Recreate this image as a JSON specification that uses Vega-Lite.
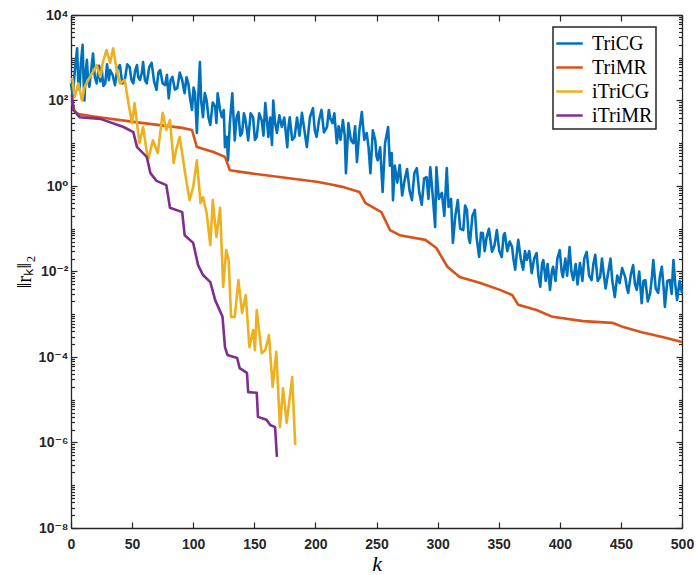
{
"$schema":"https://vega.github.io/schema/vega-lite/v6.json",
"width":611,"height":513,
"autosize":{"type":"none"},
"padding":{"left":71,"top":15,"right":15,"bottom":47},
"background":"white",
"config":{
 "view":{"stroke":null},
 "axis":{"grid":false,"domainColor":"#262626","domainWidth":1.3,"tickColor":"#262626","tickWidth":1.2,
  "labelFont":"Liberation Sans, DejaVu Sans","labelFontWeight":"bold","labelFontSize":14,"labelColor":"#262626",
  "labelFlush":false,"labelOverlap":false},
 "legend":{"strokeWidth":1.5}
},
"layer":[
 {
  "data":{"values":[
{"s":"TriCG","k":0,"r":251},{"s":"TriCG","k":1.5,"r":130},{"s":"TriCG","k":3,"r":450},{"s":"TriCG","k":5,"r":1660},{"s":"TriCG","k":6,"r":250},{"s":"TriCG","k":7,"r":178},{"s":"TriCG","k":8,"r":700},{"s":"TriCG","k":9.5,"r":2000},{"s":"TriCG","k":10.3,"r":300},{"s":"TriCG","k":11,"r":100},{"s":"TriCG","k":12,"r":450},{"s":"TriCG","k":13,"r":891},{"s":"TriCG","k":14,"r":300},{"s":"TriCG","k":15,"r":209},{"s":"TriCG","k":16.5,"r":500},{"s":"TriCG","k":18,"r":1259},{"s":"TriCG","k":19.5,"r":350},{"s":"TriCG","k":21,"r":251},{"s":"TriCG","k":23,"r":650},{"s":"TriCG","k":24,"r":280},{"s":"TriCG","k":25,"r":575},{"s":"TriCG","k":26.5,"r":220},{"s":"TriCG","k":28,"r":251},{"s":"TriCG","k":29.5,"r":700},{"s":"TriCG","k":31,"r":300},{"s":"TriCG","k":32,"r":513},{"s":"TriCG","k":34,"r":400},{"s":"TriCG","k":36,"r":229},{"s":"TriCG","k":38,"r":550},{"s":"TriCG","k":40,"r":676},{"s":"TriCG","k":42,"r":250},{"s":"TriCG","k":44,"r":302},{"s":"TriCG","k":46,"r":700},{"s":"TriCG","k":48,"r":603},{"s":"TriCG","k":49.5,"r":300},{"s":"TriCG","k":51,"r":251},{"s":"TriCG","k":52.5,"r":500},{"s":"TriCG","k":54,"r":676},{"s":"TriCG","k":55,"r":350},{"s":"TriCG","k":56.5,"r":302},{"s":"TriCG","k":58,"r":450},{"s":"TriCG","k":59,"r":794},{"s":"TriCG","k":60.5,"r":300},{"s":"TriCG","k":62,"r":251},{"s":"TriCG","k":64,"r":600},{"s":"TriCG","k":66,"r":759},{"s":"TriCG","k":68,"r":280},{"s":"TriCG","k":70,"r":178},{"s":"TriCG","k":71.5,"r":450},{"s":"TriCG","k":73,"r":513},{"s":"TriCG","k":75,"r":250},{"s":"TriCG","k":77,"r":229},{"s":"TriCG","k":78.5,"r":400},{"s":"TriCG","k":80,"r":112},{"s":"TriCG","k":81.5,"r":300},{"s":"TriCG","k":83,"r":355},{"s":"TriCG","k":85,"r":180},{"s":"TriCG","k":87,"r":195},{"s":"TriCG","k":89,"r":450},{"s":"TriCG","k":91,"r":302},{"s":"TriCG","k":92,"r":200},{"s":"TriCG","k":93,"r":148},{"s":"TriCG","k":94.5,"r":350},{"s":"TriCG","k":96,"r":251},{"s":"TriCG","k":97.5,"r":110},{"s":"TriCG","k":99,"r":60},{"s":"TriCG","k":100.3,"r":200},{"s":"TriCG","k":101.5,"r":148},{"s":"TriCG","k":103,"r":17.4},{"s":"TriCG","k":104.5,"r":200},{"s":"TriCG","k":105.5,"r":794},{"s":"TriCG","k":106.5,"r":100},{"s":"TriCG","k":108,"r":40.7},{"s":"TriCG","k":109.5,"r":150},{"s":"TriCG","k":111,"r":100},{"s":"TriCG","k":112.5,"r":40},{"s":"TriCG","k":114,"r":26.9},{"s":"TriCG","k":116,"r":90},{"s":"TriCG","k":118,"r":70.8},{"s":"TriCG","k":119,"r":30},{"s":"TriCG","k":120,"r":148},{"s":"TriCG","k":122,"r":60},{"s":"TriCG","k":123.5,"r":40.7},{"s":"TriCG","k":125,"r":60},{"s":"TriCG","k":126,"r":8.13},{"s":"TriCG","k":127.5,"r":14.1},{"s":"TriCG","k":128.5,"r":3.98},{"s":"TriCG","k":130,"r":30},{"s":"TriCG","k":132,"r":148},{"s":"TriCG","k":133,"r":40},{"s":"TriCG","k":134,"r":11.7},{"s":"TriCG","k":135.5,"r":40},{"s":"TriCG","k":137,"r":53.7},{"s":"TriCG","k":138.5,"r":15},{"s":"TriCG","k":140,"r":17.4},{"s":"TriCG","k":141.5,"r":50},{"s":"TriCG","k":142.5,"r":38.9},{"s":"TriCG","k":144,"r":20},{"s":"TriCG","k":145,"r":11.7},{"s":"TriCG","k":147,"r":50},{"s":"TriCG","k":149,"r":40.7},{"s":"TriCG","k":150.5,"r":12},{"s":"TriCG","k":152,"r":14.1},{"s":"TriCG","k":154,"r":50},{"s":"TriCG","k":156,"r":34.7},{"s":"TriCG","k":157.5,"r":15},{"s":"TriCG","k":159,"r":87.1},{"s":"TriCG","k":160.5,"r":30},{"s":"TriCG","k":161.5,"r":14.1},{"s":"TriCG","k":163,"r":40},{"s":"TriCG","k":164.5,"r":9.12},{"s":"TriCG","k":165.5,"r":100},{"s":"TriCG","k":167,"r":30},{"s":"TriCG","k":168.5,"r":17.4},{"s":"TriCG","k":170.5,"r":45},{"s":"TriCG","k":172.5,"r":24},{"s":"TriCG","k":174.5,"r":40},{"s":"TriCG","k":177,"r":8.13},{"s":"TriCG","k":178,"r":25},{"s":"TriCG","k":179,"r":40.7},{"s":"TriCG","k":181,"r":12},{"s":"TriCG","k":183,"r":14.1},{"s":"TriCG","k":185,"r":40},{"s":"TriCG","k":187,"r":15},{"s":"TriCG","k":189,"r":51.3},{"s":"TriCG","k":191,"r":20},{"s":"TriCG","k":193,"r":8.13},{"s":"TriCG","k":195.5,"r":40},{"s":"TriCG","k":198,"r":66.1},{"s":"TriCG","k":199.5,"r":20},{"s":"TriCG","k":201,"r":14.1},{"s":"TriCG","k":203,"r":35},{"s":"TriCG","k":205,"r":60.3},{"s":"TriCG","k":207,"r":18},{"s":"TriCG","k":209.5,"r":24},{"s":"TriCG","k":211,"r":60},{"s":"TriCG","k":212,"r":39.8},{"s":"TriCG","k":214,"r":29.5},{"s":"TriCG","k":215.5,"r":50},{"s":"TriCG","k":217.5,"r":10},{"s":"TriCG","k":219,"r":25},{"s":"TriCG","k":220.5,"r":12},{"s":"TriCG","k":222.5,"r":34.7},{"s":"TriCG","k":224,"r":15},{"s":"TriCG","k":225,"r":2.0},{"s":"TriCG","k":227,"r":29.5},{"s":"TriCG","k":229,"r":12},{"s":"TriCG","k":231,"r":10},{"s":"TriCG","k":232.5,"r":25},{"s":"TriCG","k":234,"r":3.63},{"s":"TriCG","k":236,"r":20},{"s":"TriCG","k":238,"r":53.7},{"s":"TriCG","k":240,"r":12},{"s":"TriCG","k":242,"r":17.4},{"s":"TriCG","k":243.5,"r":8},{"s":"TriCG","k":245,"r":2.0},{"s":"TriCG","k":247,"r":20},{"s":"TriCG","k":249,"r":11.7},{"s":"TriCG","k":250,"r":5},{"s":"TriCG","k":251,"r":3.98},{"s":"TriCG","k":253,"r":8},{"s":"TriCG","k":255,"r":0.724},{"s":"TriCG","k":257,"r":10},{"s":"TriCG","k":259.5,"r":24},{"s":"TriCG","k":261,"r":3},{"s":"TriCG","k":262.5,"r":5.89},{"s":"TriCG","k":263.5,"r":0.468},{"s":"TriCG","k":265,"r":3},{"s":"TriCG","k":267,"r":1.2},{"s":"TriCG","k":269,"r":3.09},{"s":"TriCG","k":271,"r":0.6},{"s":"TriCG","k":273,"r":1.38},{"s":"TriCG","k":275,"r":2.5},{"s":"TriCG","k":277,"r":0.8},{"s":"TriCG","k":279,"r":0.468},{"s":"TriCG","k":281,"r":2},{"s":"TriCG","k":283,"r":2.63},{"s":"TriCG","k":285,"r":0.7},{"s":"TriCG","k":287,"r":0.363},{"s":"TriCG","k":289,"r":1.5},{"s":"TriCG","k":291,"r":1.62},{"s":"TriCG","k":292.5,"r":0.5},{"s":"TriCG","k":294,"r":2.75},{"s":"TriCG","k":296,"r":0.6},{"s":"TriCG","k":298,"r":0.11},{"s":"TriCG","k":299,"r":2.75},{"s":"TriCG","k":301,"r":0.5},{"s":"TriCG","k":303.5,"r":0.692},{"s":"TriCG","k":305.5,"r":0.2},{"s":"TriCG","k":307.5,"r":2.63},{"s":"TriCG","k":309,"r":0.324},{"s":"TriCG","k":311,"r":0.5},{"s":"TriCG","k":312.5,"r":0.0468},{"s":"TriCG","k":314.5,"r":0.2},{"s":"TriCG","k":316.5,"r":0.468},{"s":"TriCG","k":318.5,"r":0.1},{"s":"TriCG","k":321,"r":0.0933},{"s":"TriCG","k":322.5,"r":0.35},{"s":"TriCG","k":324,"r":0.275},{"s":"TriCG","k":325.5,"r":0.06},{"s":"TriCG","k":326.5,"r":0.0468},{"s":"TriCG","k":328.5,"r":0.2},{"s":"TriCG","k":330.5,"r":0.275},{"s":"TriCG","k":332,"r":0.06},{"s":"TriCG","k":334,"r":0.0219},{"s":"TriCG","k":335.5,"r":0.08},{"s":"TriCG","k":337,"r":0.0794},{"s":"TriCG","k":338.5,"r":0.03},{"s":"TriCG","k":340,"r":0.0603},{"s":"TriCG","k":342,"r":0.1},{"s":"TriCG","k":344.5,"r":0.0288},{"s":"TriCG","k":346.5,"r":0.04},{"s":"TriCG","k":348.5,"r":0.0933},{"s":"TriCG","k":350.5,"r":0.03},{"s":"TriCG","k":352.5,"r":0.0219},{"s":"TriCG","k":354,"r":0.07},{"s":"TriCG","k":355,"r":0.0794},{"s":"TriCG","k":357,"r":0.03},{"s":"TriCG","k":359,"r":0.05},{"s":"TriCG","k":361,"r":0.0372},{"s":"TriCG","k":362,"r":0.02},{"s":"TriCG","k":363.5,"r":0.011},{"s":"TriCG","k":365,"r":0.03},{"s":"TriCG","k":366,"r":0.055},{"s":"TriCG","k":368,"r":0.02},{"s":"TriCG","k":370,"r":0.011},{"s":"TriCG","k":371.5,"r":0.03},{"s":"TriCG","k":373,"r":0.0186},{"s":"TriCG","k":375,"r":0.03},{"s":"TriCG","k":377,"r":0.00912},{"s":"TriCG","k":379,"r":0.02},{"s":"TriCG","k":381,"r":0.0269},{"s":"TriCG","k":382.5,"r":0.008},{"s":"TriCG","k":384,"r":0.00437},{"s":"TriCG","k":385.5,"r":0.015},{"s":"TriCG","k":386.5,"r":0.0186},{"s":"TriCG","k":388.5,"r":0.006},{"s":"TriCG","k":390,"r":0.015},{"s":"TriCG","k":392,"r":0.00372},{"s":"TriCG","k":393.5,"r":0.01},{"s":"TriCG","k":394.5,"r":0.0129},{"s":"TriCG","k":396.5,"r":0.006},{"s":"TriCG","k":398,"r":0.02},{"s":"TriCG","k":400,"r":0.0316},{"s":"TriCG","k":401.5,"r":0.01},{"s":"TriCG","k":402.5,"r":0.00741},{"s":"TriCG","k":404.5,"r":0.02},{"s":"TriCG","k":406,"r":0.008},{"s":"TriCG","k":408,"r":0.0372},{"s":"TriCG","k":409.5,"r":0.01},{"s":"TriCG","k":411,"r":0.00631},{"s":"TriCG","k":413,"r":0.015},{"s":"TriCG","k":414.5,"r":0.005},{"s":"TriCG","k":416.5,"r":0.0158},{"s":"TriCG","k":418.5,"r":0.006},{"s":"TriCG","k":420,"r":0.02},{"s":"TriCG","k":422,"r":0.0288},{"s":"TriCG","k":424,"r":0.008},{"s":"TriCG","k":426,"r":0.00631},{"s":"TriCG","k":427.5,"r":0.015},{"s":"TriCG","k":429,"r":0.0245},{"s":"TriCG","k":431,"r":0.006},{"s":"TriCG","k":433,"r":0.00741},{"s":"TriCG","k":434.5,"r":0.02},{"s":"TriCG","k":435.5,"r":0.011},{"s":"TriCG","k":437.5,"r":0.004},{"s":"TriCG","k":439.5,"r":0.00912},{"s":"TriCG","k":441.5,"r":0.02},{"s":"TriCG","k":443,"r":0.006},{"s":"TriCG","k":445,"r":0.00251},{"s":"TriCG","k":447,"r":0.008},{"s":"TriCG","k":449,"r":0.00537},{"s":"TriCG","k":451,"r":0.012},{"s":"TriCG","k":453.5,"r":0.00741},{"s":"TriCG","k":455,"r":0.004},{"s":"TriCG","k":456,"r":0.00316},{"s":"TriCG","k":458,"r":0.008},{"s":"TriCG","k":460,"r":0.0141},{"s":"TriCG","k":461.5,"r":0.005},{"s":"TriCG","k":463,"r":0.00372},{"s":"TriCG","k":465,"r":0.01},{"s":"TriCG","k":467,"r":0.00182},{"s":"TriCG","k":468.5,"r":0.006},{"s":"TriCG","k":470,"r":0.00631},{"s":"TriCG","k":472,"r":0.002},{"s":"TriCG","k":474,"r":0.00316},{"s":"TriCG","k":475.5,"r":0.008},{"s":"TriCG","k":476.5,"r":0.0186},{"s":"TriCG","k":478.5,"r":0.004},{"s":"TriCG","k":480.5,"r":0.00316},{"s":"TriCG","k":482,"r":0.008},{"s":"TriCG","k":483.5,"r":0.0129},{"s":"TriCG","k":485,"r":0.004},{"s":"TriCG","k":486,"r":0.00148},{"s":"TriCG","k":488,"r":0.006},{"s":"TriCG","k":490,"r":0.00631},{"s":"TriCG","k":491.5,"r":0.003},{"s":"TriCG","k":493,"r":0.0186},{"s":"TriCG","k":494.5,"r":0.005},{"s":"TriCG","k":496,"r":0.00214},{"s":"TriCG","k":498,"r":0.006},{"s":"TriCG","k":500,"r":0.00316},
{"s":"TriMR","k":1,"r":89},{"s":"TriMR","k":3,"r":56},{"s":"TriMR","k":6,"r":48},{"s":"TriMR","k":20,"r":41.7},{"s":"TriMR","k":51,"r":31.6},{"s":"TriMR","k":91,"r":22.9},{"s":"TriMR","k":99,"r":20.4},{"s":"TriMR","k":103,"r":8.13},{"s":"TriMR","k":116,"r":6.31},{"s":"TriMR","k":126,"r":4.79},{"s":"TriMR","k":130,"r":2.34},{"s":"TriMR","k":146,"r":2.0},{"s":"TriMR","k":201,"r":1.26},{"s":"TriMR","k":212,"r":1.1},{"s":"TriMR","k":222,"r":0.955},{"s":"TriMR","k":236,"r":0.724},{"s":"TriMR","k":241,"r":0.398},{"s":"TriMR","k":254,"r":0.245},{"s":"TriMR","k":261,"r":0.0933},{"s":"TriMR","k":269,"r":0.0708},{"s":"TriMR","k":290,"r":0.055},{"s":"TriMR","k":299,"r":0.0355},{"s":"TriMR","k":308,"r":0.0129},{"s":"TriMR","k":318,"r":0.00741},{"s":"TriMR","k":335,"r":0.00537},{"s":"TriMR","k":351,"r":0.00372},{"s":"TriMR","k":361,"r":0.00282},{"s":"TriMR","k":366,"r":0.00166},{"s":"TriMR","k":381,"r":0.00126},{"s":"TriMR","k":394,"r":0.00087},{"s":"TriMR","k":419,"r":0.00069},{"s":"TriMR","k":443,"r":0.00063},{"s":"TriMR","k":452,"r":0.0005},{"s":"TriMR","k":467,"r":0.00038},{"s":"TriMR","k":484,"r":0.000295},{"s":"TriMR","k":500,"r":0.000224},
{"s":"iTriCG","k":1,"r":339},{"s":"iTriCG","k":3,"r":120},{"s":"iTriCG","k":6,"r":251},{"s":"iTriCG","k":9,"r":100},{"s":"iTriCG","k":11,"r":200},{"s":"iTriCG","k":14,"r":302},{"s":"iTriCG","k":18,"r":468},{"s":"iTriCG","k":21,"r":676},{"s":"iTriCG","k":24,"r":355},{"s":"iTriCG","k":26,"r":759},{"s":"iTriCG","k":29,"r":1514},{"s":"iTriCG","k":32,"r":759},{"s":"iTriCG","k":34.5,"r":1660},{"s":"iTriCG","k":37,"r":603},{"s":"iTriCG","k":40,"r":251},{"s":"iTriCG","k":44,"r":302},{"s":"iTriCG","k":47,"r":87},{"s":"iTriCG","k":50,"r":29.5},{"s":"iTriCG","k":52,"r":87},{"s":"iTriCG","k":56,"r":10},{"s":"iTriCG","k":59,"r":24},{"s":"iTriCG","k":63,"r":3.98},{"s":"iTriCG","k":67,"r":11.7},{"s":"iTriCG","k":71,"r":5.89},{"s":"iTriCG","k":75,"r":51.3},{"s":"iTriCG","k":78,"r":20.4},{"s":"iTriCG","k":81,"r":34.7},{"s":"iTriCG","k":84,"r":3.47},{"s":"iTriCG","k":86,"r":6.92},{"s":"iTriCG","k":89,"r":14.1},{"s":"iTriCG","k":93,"r":2.34},{"s":"iTriCG","k":97,"r":0.468},{"s":"iTriCG","k":100,"r":0.955},{"s":"iTriCG","k":103,"r":3.98},{"s":"iTriCG","k":106,"r":0.398},{"s":"iTriCG","k":108,"r":0.55},{"s":"iTriCG","k":111,"r":0.234},{"s":"iTriCG","k":114,"r":0.0417},{"s":"iTriCG","k":116,"r":0.468},{"s":"iTriCG","k":119,"r":0.0646},{"s":"iTriCG","k":122,"r":0.309},{"s":"iTriCG","k":124.5,"r":0.00437},{"s":"iTriCG","k":127,"r":0.0316},{"s":"iTriCG","k":129,"r":0.0186},{"s":"iTriCG","k":131,"r":0.00087},{"s":"iTriCG","k":134,"r":0.00087},{"s":"iTriCG","k":137,"r":0.00631},{"s":"iTriCG","k":140,"r":0.00107},{"s":"iTriCG","k":143,"r":0.00282},{"s":"iTriCG","k":146,"r":0.00017},{"s":"iTriCG","k":149,"r":0.000427},{"s":"iTriCG","k":150.5,"r":0.000145},{"s":"iTriCG","k":152,"r":0.00126},{"s":"iTriCG","k":156,"r":0.000123},{"s":"iTriCG","k":159,"r":0.000145},{"s":"iTriCG","k":162,"r":0.000324},{"s":"iTriCG","k":165,"r":0.00002},{"s":"iTriCG","k":168,"r":0.000132},{"s":"iTriCG","k":171,"r":0.00000229},{"s":"iTriCG","k":173.5,"r":0.0000186},{"s":"iTriCG","k":176.5,"r":0.00000288},{"s":"iTriCG","k":181,"r":0.0000339},{"s":"iTriCG","k":183.5,"r":0.00000087},
{"s":"iTriMR","k":0.8,"r":135},{"s":"iTriMR","k":2,"r":60},{"s":"iTriMR","k":7,"r":40.7},{"s":"iTriMR","k":24,"r":37.2},{"s":"iTriMR","k":43,"r":24},{"s":"iTriMR","k":51,"r":18.2},{"s":"iTriMR","k":54,"r":8.13},{"s":"iTriMR","k":62,"r":4.79},{"s":"iTriMR","k":65,"r":2.0},{"s":"iTriMR","k":70,"r":1.32},{"s":"iTriMR","k":78,"r":1.05},{"s":"iTriMR","k":81,"r":0.309},{"s":"iTriMR","k":91,"r":0.245},{"s":"iTriMR","k":93,"r":0.0708},{"s":"iTriMR","k":100,"r":0.0468},{"s":"iTriMR","k":104,"r":0.0141},{"s":"iTriMR","k":108,"r":0.0083},{"s":"iTriMR","k":114,"r":0.00562},{"s":"iTriMR","k":118,"r":0.00214},{"s":"iTriMR","k":124,"r":0.00087},{"s":"iTriMR","k":126,"r":0.00017},{"s":"iTriMR","k":128,"r":0.000112},{"s":"iTriMR","k":136,"r":0.000095},{"s":"iTriMR","k":138,"r":0.000055},{"s":"iTriMR","k":144,"r":0.0000427},{"s":"iTriMR","k":145,"r":0.0000151},{"s":"iTriMR","k":152,"r":0.0000145},{"s":"iTriMR","k":153,"r":0.00000398},{"s":"iTriMR","k":160,"r":0.00000339},{"s":"iTriMR","k":163,"r":0.00000257},{"s":"iTriMR","k":167,"r":0.00000229},{"s":"iTriMR","k":168.5,"r":0.00000046}
  ]},
  "mark":{"type":"line","strokeWidth":2.6,"strokeJoin":"round"},
  "encoding":{
   "x":{"field":"k","type":"quantitative","scale":{"domain":[0,500],"nice":false,"zero":false},
    "axis":{"orient":"bottom","values":[0,50,100,150,200,250,300,350,400,450,500],"ticks":false,"labelPadding":9,
     "title":"k","titleFont":"Liberation Serif","titleFontStyle":"italic","titleFontWeight":"normal","titleFontSize":22,"titleColor":"#000","titlePadding":2}},
   "y":{"field":"r","type":"quantitative","scale":{"type":"log","domain":[1e-8,1e4],"nice":false},
    "axis":{"orient":"left","values":[1e-8,1e-6,1e-4,1e-2,1,100,10000],"ticks":false,"labelPadding":3,
     "labelExpr":"datum.value >= 5000 ? '10⁴' : datum.value >= 50 ? '10²' : datum.value >= 0.5 ? '10⁰' : datum.value >= 0.005 ? '10⁻²' : datum.value >= 0.00005 ? '10⁻⁴' : datum.value >= 0.0000005 ? '10⁻⁶' : '10⁻⁸'",
     "title":"‖rₖ‖₂","titleFont":"Liberation Serif","titleFontWeight":"normal","titleFontSize":21,"titleColor":"#000","titlePadding":4}},
   "color":{"field":"s","type":"nominal","sort":["TriCG","TriMR","iTriCG","iTriMR"],
    "scale":{"domain":["TriCG","TriMR","iTriCG","iTriMR"],"range":["#0072BD","#D95319","#EDB120","#7E2F8E"]},
    "legend":{"orient":"none","legendX":482,"legendY":12,"title":null,"symbolType":"M-1.1,0H1.1","symbolStrokeWidth":2.5,"symbolSize":576,
     "labelFont":"Liberation Serif","labelFontSize":20,"labelColor":"#000","strokeColor":"#262626","fillColor":"white","padding":3,"rowPadding":0,"labelOffset":9,"cornerRadius":0}}
  }
 },
 {
  "data":{"values":[{"k":0,"r":1}]},
  "mark":{"type":"point","opacity":0},
  "encoding":{
   "x":{"field":"k","type":"quantitative","scale":{"domain":[0,500],"nice":false,"zero":false},
    "axis":{"orient":"top","offset":-513,"domain":false,"values":[0,50,100,150,200,250,300,350,400,450,500],"tickSize":6,"labels":false,"title":null}},
   "y":{"field":"r","type":"quantitative","scale":{"type":"log","domain":[1e-8,1e4],"nice":false},
    "axis":{"orient":"right","offset":-611,"domain":false,"values":[1e-8,1e-6,1e-4,1e-2,1,100,10000],"tickSize":6,"labels":false,"title":null}}
  }
 },
 {
  "data":{"values":[{"k":0,"r":1}]},
  "mark":{"type":"point","opacity":0},
  "encoding":{
   "x":{"field":"k","type":"quantitative","scale":{"domain":[0,500],"nice":false,"zero":false},
    "axis":{"orient":"bottom","offset":-513,"domain":true,"values":[0,50,100,150,200,250,300,350,400,450,500],"tickSize":6,"labels":false,"title":null}},
   "y":{"field":"r","type":"quantitative","scale":{"type":"log","domain":[1e-8,1e4],"nice":false},
    "axis":{"orient":"left","offset":-611,"domain":true,"values":[1e-8,1e-6,1e-4,1e-2,1,100,10000],"tickSize":6,"labels":false,"title":null}}
  }
 },
 {
  "data":{"values":[{"k":0,"r":1}]},
  "mark":{"type":"point","opacity":0},
  "encoding":{
   "x":{"field":"k","type":"quantitative","scale":{"domain":[0,500],"nice":false,"zero":false},"axis":null},
   "y":{"field":"r","type":"quantitative","scale":{"type":"log","domain":[1e-8,1e4],"nice":false},
    "axis":{"orient":"right","offset":-611,"domain":false,"tickSize":3.5,"labels":false,"title":null,"values":[2e-8,3e-8,4e-8,5e-8,6e-8,7e-8,8e-8,9e-8,1e-7,2e-7,3e-7,4e-7,5e-7,6e-7,7e-7,8e-7,9e-7,2e-6,3e-6,4e-6,5e-6,6e-6,7e-6,8e-6,9e-6,1e-5,2e-5,3e-5,4e-5,5e-5,6e-5,7e-5,8e-5,9e-5,2e-4,3e-4,4e-4,5e-4,6e-4,7e-4,8e-4,9e-4,1e-3,2e-3,3e-3,4e-3,5e-3,6e-3,7e-3,8e-3,9e-3,2e-2,3e-2,4e-2,5e-2,6e-2,7e-2,8e-2,9e-2,0.1,0.2,0.3,0.4,0.5,0.6,0.7,0.8,0.9,2,3,4,5,6,7,8,9,10,20,30,40,50,60,70,80,90,200,300,400,500,600,700,800,900,1000,2000,3000,4000,5000,6000,7000,8000,9000]}}
  }
 },
 {
  "data":{"values":[{"k":0,"r":1}]},
  "mark":{"type":"point","opacity":0},
  "encoding":{
   "x":{"field":"k","type":"quantitative","scale":{"domain":[0,500],"nice":false,"zero":false},"axis":null},
   "y":{"field":"r","type":"quantitative","scale":{"type":"log","domain":[1e-8,1e4],"nice":false},
    "axis":{"orient":"left","offset":-611,"domain":false,"tickSize":3.5,"labels":false,"title":null,"values":[2e-8,3e-8,4e-8,5e-8,6e-8,7e-8,8e-8,9e-8,1e-7,2e-7,3e-7,4e-7,5e-7,6e-7,7e-7,8e-7,9e-7,2e-6,3e-6,4e-6,5e-6,6e-6,7e-6,8e-6,9e-6,1e-5,2e-5,3e-5,4e-5,5e-5,6e-5,7e-5,8e-5,9e-5,2e-4,3e-4,4e-4,5e-4,6e-4,7e-4,8e-4,9e-4,1e-3,2e-3,3e-3,4e-3,5e-3,6e-3,7e-3,8e-3,9e-3,2e-2,3e-2,4e-2,5e-2,6e-2,7e-2,8e-2,9e-2,0.1,0.2,0.3,0.4,0.5,0.6,0.7,0.8,0.9,2,3,4,5,6,7,8,9,10,20,30,40,50,60,70,80,90,200,300,400,500,600,700,800,900,1000,2000,3000,4000,5000,6000,7000,8000,9000]}}
  }
 }
],
"resolve":{"axis":{"x":"independent","y":"independent"}}
}
